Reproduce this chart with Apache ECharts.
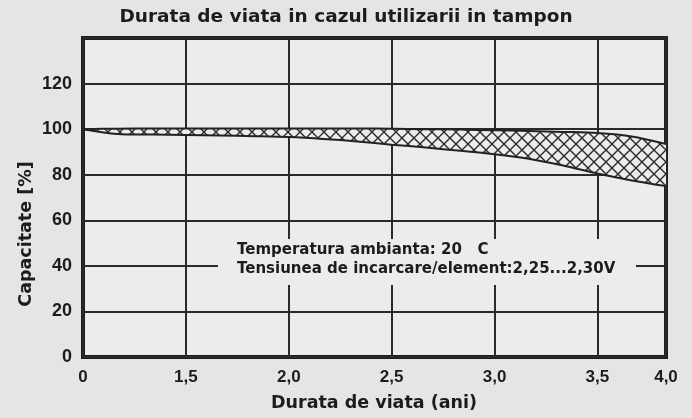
<!DOCTYPE html>
<html>
<head>
<meta charset="utf-8">
<script src="https://cdn.jsdelivr.net/npm/echarts@6/dist/echarts.min.js"></script>
<style>
  html, body { margin: 0; padding: 0; background: #e5e5e5; }
  #chart { width: 692px; height: 418px; }
</style>
</head>
<body>
<div id="chart"></div>
<script>
// Service life (years) sampled along the horizontal axis
const lifeYears = [0, 0.5, 1, 1.5, 1.67, 1.83, 2, 2.17, 2.33, 2.5, 2.67, 2.83, 3, 3.17, 3.33, 3.5, 3.75, 4];
// Years that carry a printed label, and the printed text
const tickYears = [0, 1.5, 2, 2.5, 3, 3.5, 4];
const tickLabels = ['0', '1,5', '2,0', '2,5', '3,0', '3,5', '4,0'];
// Capacity band: lower and upper limit [%]
const capacityLow  = [100, 97.9, 97.6, 97.4, 97.2, 96.9, 96.5, 95.7, 94.6, 93.2, 91.9, 90.5, 89.0, 87.0, 84.0, 80.5, 77.5, 75.0];
const capacityHigh = [100, 100.2, 100.3, 100.3, 100.3, 100.3, 100.3, 100.3, 100.3, 100.2, 100.0, 99.8, 99.5, 99.2, 98.8, 98.3, 96.8, 93.5];
// Capacity values with a printed label
const capacityTicks = [0, 20, 40, 60, 80, 100, 120];

const titleText = 'Durata de viata in cazul utilizarii in tampon';
const xName = 'Durata de viata (ani)';
const yName = 'Capacitate [%]';
const noteLines = ['Temperatura ambianta: 20   C', 'Tensiunea de incarcare/element:2,25...2,30V'];

const INK = '#1c1c1c';
const PLOT_BG = '#ececec';
const TEXT_FONT = '"DejaVu Sans", Verdana, sans-serif';
const NUM_FONT = '"Liberation Sans", Arial, sans-serif';

// Cross-hatch tile for the band fill
function makeHatch() {
  const s = 12;
  const c = document.createElement('canvas');
  c.width = s; c.height = s;
  const g = c.getContext('2d');
  g.fillStyle = PLOT_BG;
  g.fillRect(0, 0, s, s);
  g.strokeStyle = '#2a2a2a';
  g.lineWidth = 1.4;
  g.beginPath();
  g.moveTo(-2, -2); g.lineTo(s + 2, s + 2);
  g.moveTo(s + 2, -2); g.lineTo(-2, s + 2);
  g.stroke();
  return c;
}

const isMajor = (i) => tickYears.indexOf(lifeYears[i]) >= 0;
const bandWidth = capacityHigh.map((v, i) => +(v - capacityLow[i]).toFixed(2));

const chart = echarts.init(document.getElementById('chart'), null, { renderer: 'canvas' });
chart.setOption({
  animation: false,
  backgroundColor: '#e5e5e5',
  grid: {
    left: 83, right: 26, top: 38, bottom: 61,
    show: true,
    backgroundColor: PLOT_BG,
    borderColor: INK,
    borderWidth: 4
  },
  xAxis: {
    type: 'category',
    data: lifeYears.map(String),
    boundaryGap: false,
    axisLine: { show: false },
    axisTick: { show: false },
    axisLabel: {
      interval: (i) => isMajor(i),
      formatter: (v, i) => tickLabels[tickYears.indexOf(lifeYears[i])],
      color: INK,
      fontFamily: NUM_FONT,
      fontWeight: 'bold',
      fontSize: 17,
      margin: 12
    },
    splitLine: {
      show: true,
      interval: (i) => isMajor(i),
      lineStyle: { color: '#2a2a2a', width: 2 }
    }
  },
  yAxis: {
    type: 'value',
    min: 0, max: 140, interval: 20,
    axisLine: { show: false },
    axisTick: { show: false },
    axisLabel: {
      formatter: (v) => capacityTicks.indexOf(v) >= 0 ? String(v) : '',
      color: INK,
      fontFamily: NUM_FONT,
      fontWeight: 'bold',
      fontSize: 18,
      margin: 11,
      padding: [4, 0, 0, 0]
    },
    splitLine: { show: true, lineStyle: { color: '#2a2a2a', width: 2.2 } }
  },
  series: [
    {
      name: 'low',
      type: 'line',
      data: capacityLow,
      stack: 'band',
      symbol: 'none',
      smooth: 0.3,
      lineStyle: { color: '#222', width: 2 },
      z: 3
    },
    {
      name: 'high',
      type: 'line',
      data: bandWidth,
      stack: 'band',
      symbol: 'none',
      smooth: 0.3,
      lineStyle: { color: '#222', width: 2 },
      areaStyle: { color: { image: makeHatch(), repeat: 'repeat' }, opacity: 1 },
      z: 3
    }
  ],
  graphic: [
    {
      type: 'text', left: 'center', top: 8,
      style: { text: titleText, fill: INK, font: 'bold 18.5px ' + TEXT_FONT }
    },
    {
      type: 'text', x: 374, y: 403,
      style: { text: xName, fill: INK, font: 'bold 17.5px ' + TEXT_FONT, align: 'center', verticalAlign: 'middle' }
    },
    {
      type: 'text', x: 26, y: 234, rotation: Math.PI / 2,
      style: { text: yName, fill: INK, font: 'bold 17.5px ' + TEXT_FONT, align: 'center', verticalAlign: 'middle' }
    },
    {
      type: 'rect', z: 10,
      shape: { x: 218, y: 239, width: 418, height: 46 },
      style: { fill: PLOT_BG }
    },
    {
      type: 'text', z: 11, x: 237, y: 250,
      style: { text: noteLines[0], fill: INK, font: 'bold 15px ' + TEXT_FONT, verticalAlign: 'middle' }
    },
    {
      type: 'text', z: 11, x: 237, y: 269,
      style: { text: noteLines[1], fill: INK, font: 'bold 15px ' + TEXT_FONT, verticalAlign: 'middle' }
    }
  ]
});
</script>
</body>
</html>
